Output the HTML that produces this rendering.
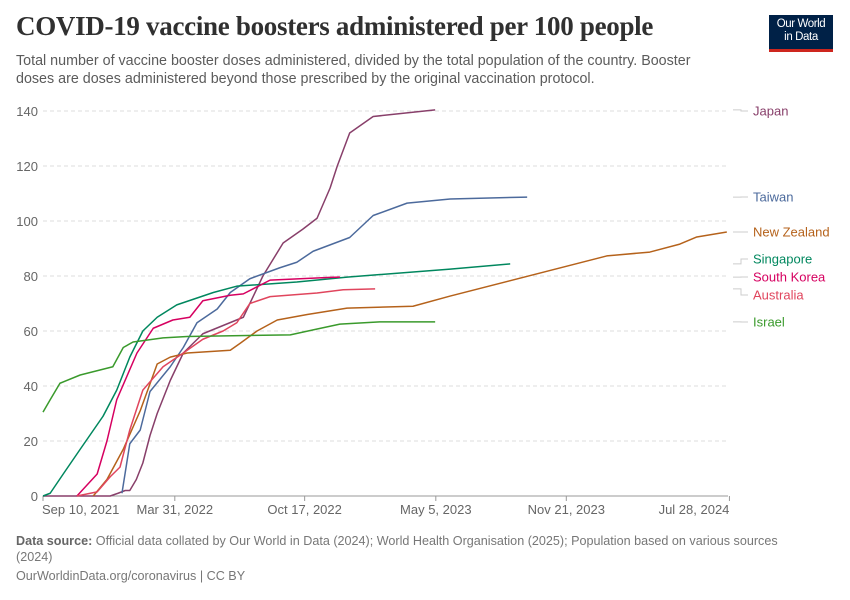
<!DOCTYPE html>
<html><head><meta charset="utf-8"><style>
body{margin:0;background:#fff;width:850px;height:600px;overflow:hidden;font-family:"Liberation Sans",sans-serif}
.t{position:absolute;left:16px;top:11px;font-family:"Liberation Serif",serif;font-weight:bold;font-size:27px;color:#303030;letter-spacing:-0.3px}
.s{position:absolute;left:16px;top:52px;width:712px;font-size:14.3px;line-height:18px;color:#5b5b5b}
.logo{position:absolute;left:769px;top:15px;width:64px;height:37px;background:#002147;border-bottom:3px solid #ce261e;color:#fff;font-size:11.5px;line-height:13px;text-align:center;padding-top:3px;box-sizing:border-box;letter-spacing:-0.4px}
.f{position:absolute;left:16px;font-size:12.6px;color:#777}
</style></head><body>
<div class="t">COVID-19 vaccine boosters administered per 100 people</div>
<div class="s">Total number of vaccine booster doses administered, divided by the total population of the country. Booster doses are doses administered beyond those prescribed by the original vaccination protocol.</div>
<div class="logo">Our World<br>in Data</div>
<svg id="c" width="850" height="600" style="position:absolute;left:0;top:0"></svg>
<div class="f" style="top:533px;width:790px;line-height:16px"><b style="color:#666">Data source:</b> Official data collated by Our World in Data (2024); World Health Organisation (2025); Population based on various sources (2024)</div>
<div class="f" style="top:569px">OurWorldinData.org/coronavirus | CC BY</div>
<script>
// x values: days since Sep 10, 2021
const yTicks=[0,20,40,60,80,100,120,140];
const xTickDays=[0,202,401,602,802,1052];
const xTickLabels=["Sep 10, 2021","Mar 31, 2022","Oct 17, 2022","May 5, 2023","Nov 21, 2023","Jul 28, 2024"];
const japanX=[0,103,115,126,133,143,153,164,175,195,215,245,276,307,337,368,398,420,440,451,470,506,601];
const japanY=[0,0,1,2,2,6,12,22,30,42,52,59,62,65,80,92,97,101,112,120,132,138,140.4];
const taiwanX=[121,133,149,164,195,215,236,267,287,317,363,389,414,470,506,558,624,742];
const taiwanY=[1,19,24,38,47,54,63,68,74,79,83,85,89,94,102,106.5,108,108.7];
const nzX=[77,98,123,149,175,195,221,287,302,328,359,405,466,567,624,864,930,976,1002,1048];
const nzY=[0,6,17,31,48,50.5,52,53,55.5,60,64,66,68.3,69,72.7,87.3,88.7,91.6,94.2,96];
const sgX=[0,11,31,57,92,113,133,153,175,205,261,297,389,466,624,716];
const sgY=[0,1,8,17,29,38.5,50.5,60,65,69.5,74,76.3,77.8,79.6,82.5,84.4];
const krX=[52,83,98,113,144,169,199,225,245,287,307,348,440,455];
const krY=[0,8,20,35,52,61,64,65,71,73,73.5,78.5,79.5,79.6];
const auX=[52,83,103,118,133,153,184,215,245,276,297,317,348,420,460,509];
const auY=[0,1.5,7,10.5,24,38.5,47,52,57,60,63,70,72.5,73.8,75,75.3];
const ilX=[0,11,26,57,107,123,138,184,221,379,414,455,516,601];
const ilY=[30.5,35,41,44,47,54,56,57.5,58,58.6,60.4,62.5,63.3,63.3];
const series=[
 {n:"Japan",x:japanX,y:japanY,c:"#883f6a",ly:111},
 {n:"Taiwan",x:taiwanX,y:taiwanY,c:"#4c6a9c",ly:197},
 {n:"New Zealand",x:nzX,y:nzY,c:"#b5621b",ly:232},
 {n:"Singapore",x:sgX,y:sgY,c:"#00875e",ly:259},
 {n:"South Korea",x:krX,y:krY,c:"#d60060",ly:277},
 {n:"Australia",x:auX,y:auY,c:"#e0455d",ly:295},
 {n:"Israel",x:ilX,y:ilY,c:"#3a9a2c",ly:322}];
const X=d=>43+d*0.6525, Y=v=>496-v*2.75;
const svg=document.getElementById('c'),NS="http://www.w3.org/2000/svg";
function mk(t,a,txt){const e=document.createElementNS(NS,t);for(const k in a)e.setAttribute(k,a[k]);if(txt!=null)e.textContent=txt;svg.appendChild(e);return e;}
yTicks.forEach(v=>{
 if(v>0){const g=mk('line',{x1:43,x2:728,y1:Y(v),y2:Y(v),stroke:'#ddd','stroke-dasharray':'4,3'});
 
 }
 const t=mk('text',{x:38,y:Y(v)+5,'text-anchor':'end','font-size':13,fill:'#666'},v);
 
 
});
const ax=mk('line',{x1:43,x2:728,y1:496,y2:496,stroke:'#999'});


xTickDays.forEach((d,i)=>{
 const l=mk('line',{x1:X(d),x2:X(d),y1:496,y2:501,stroke:'#999'});
 
 
 const anchor=i==0?'start':(i==xTickDays.length-1?'end':'middle');
 const t=mk('text',{x:i==0?X(d)-1:X(d),y:514,'text-anchor':anchor,'font-size':13,fill:'#666'},xTickLabels[i]);
 
 
});
series.forEach(s=>{
 const pts=s.x.map((d,i)=>X(d)+','+Y(s.y[i])).join(' ');
 const p=mk('polyline',{points:pts,fill:'none',stroke:s.c,'stroke-width':1.5,'stroke-linejoin':'round'});
 
 
 const ey=Y(s.y[s.y.length-1]);
 const c=mk('path',{d:`M733,${Math.min(Math.max(ey,s.ly-8),s.ly+8)} H741 V${s.ly} H748`,fill:'none',stroke:'#ccc'});
 
 
 const t=mk('text',{x:753,y:s.ly+4.5,'font-size':13,fill:s.c},s.n);
 
 
});
</script>
</body></html>
